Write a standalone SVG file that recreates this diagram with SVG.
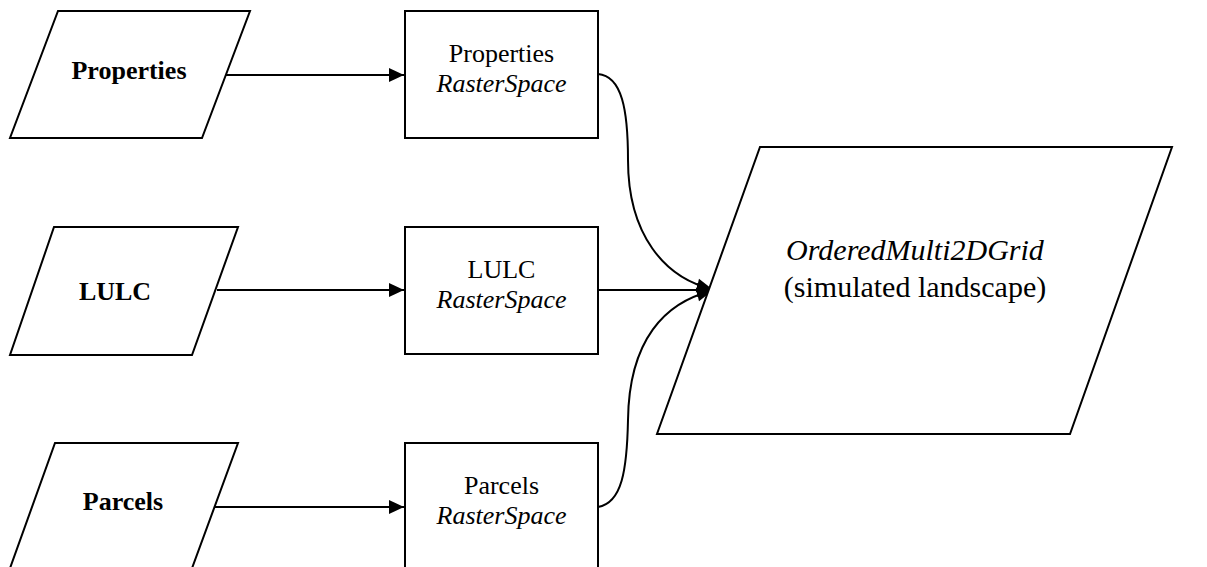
<svg xmlns="http://www.w3.org/2000/svg" width="1207" height="567" viewBox="0 0 1207 567">
<style>
.shape{fill:#fff;stroke:#000;stroke-width:2}
.edge{fill:none;stroke:#000;stroke-width:2}
text{font-family:"Liberation Serif","Times New Roman",serif;fill:#000;text-anchor:middle}
.b{font-weight:bold;font-size:26px}
.r{font-size:26px}
.m{font-size:30px}
.i{font-style:italic}
</style>
<defs>
<marker id="arr" refX="15" refY="7" markerWidth="15" markerHeight="14" markerUnits="userSpaceOnUse" orient="auto" overflow="visible">
<path d="M0,0 L15,7 L0,14 Z" fill="#000"/>
</marker>
</defs>
<rect width="1207" height="567" fill="#fff"/>
<g id="connectors">
<path class="edge" d="M226,75 L404,75" marker-end="url(#arr)"/>
<path class="edge" d="M217,290 L404,290" marker-end="url(#arr)"/>
<path class="edge" d="M215,507 L404,507" marker-end="url(#arr)"/>
<path class="edge" d="M598,290 L712,290" marker-end="url(#arr)"/>
<path class="edge" d="M598,74 C622,76 628,110 628,160 C628,235 665,278 712,289" marker-end="url(#arr)"/>
<path class="edge" d="M598,507 C622,503 627,470 628,420 C629,340 665,302 712,291" marker-end="url(#arr)"/>
</g>
<g id="in-properties">
<polygon class="shape" points="58,11 250,11 202,138 10,138"/>
<text class="b" x="129" y="79">Properties</text>
</g>
<g id="in-lulc">
<polygon class="shape" points="54,227 238,227 192,355 10,355"/>
<text class="b" x="115" y="300">LULC</text>
</g>
<g id="in-parcels">
<polygon class="shape" points="55,443 238,443 191,571 9,571"/>
<text class="b" x="123" y="510">Parcels</text>
</g>
<g id="rs-properties">
<rect class="shape" x="405" y="11" width="193" height="127"/>
<text class="r" x="501.5" y="62">Properties</text>
<text class="r i" x="501.5" y="92">RasterSpace</text>
</g>
<g id="rs-lulc">
<rect class="shape" x="405" y="227" width="193" height="127"/>
<text class="r" x="501.5" y="278">LULC</text>
<text class="r i" x="501.5" y="308">RasterSpace</text>
</g>
<g id="rs-parcels">
<rect class="shape" x="405" y="443" width="193" height="127"/>
<text class="r" x="501.5" y="494">Parcels</text>
<text class="r i" x="501.5" y="524">RasterSpace</text>
</g>
<g id="grid">
<polygon class="shape" points="760,147 1172,147 1070,434 657,434"/>
<text class="m i" x="915" y="260">OrderedMulti2DGrid</text>
<text class="m" x="915" y="297">(simulated landscape)</text>
</g>
</svg>
